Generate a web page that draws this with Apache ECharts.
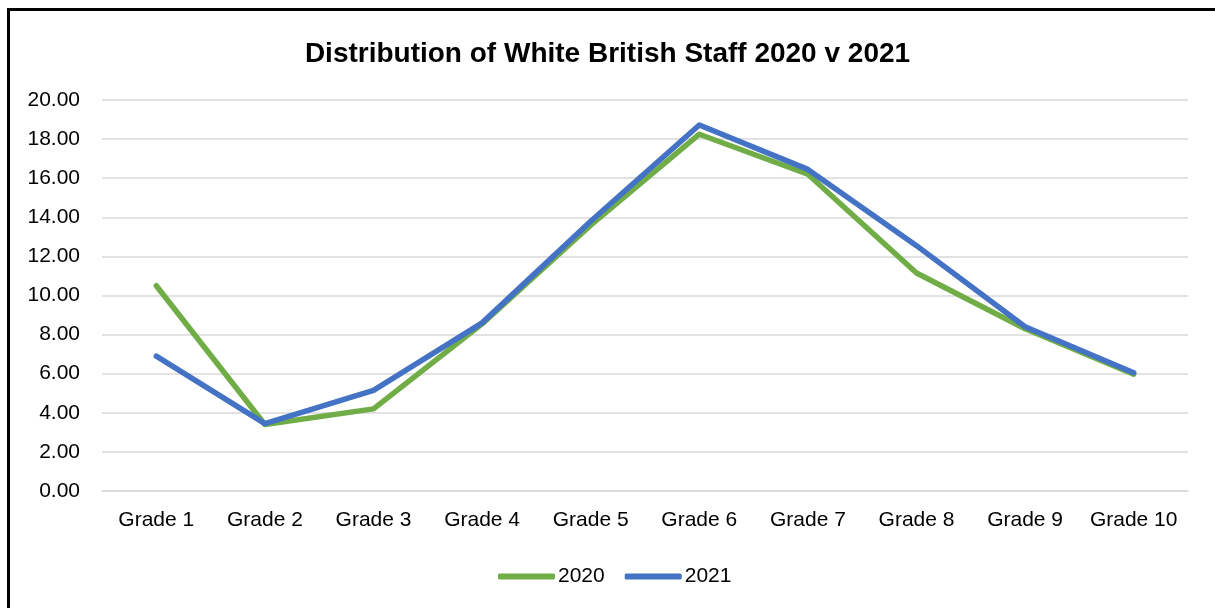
<!DOCTYPE html>
<html>
<head>
<meta charset="utf-8">
<script src="https://cdn.jsdelivr.net/npm/echarts@6/dist/echarts.min.js"></script>
<style>
  html, body { margin: 0; padding: 0; background: #fff; overflow: hidden; }
  #frame { position: absolute; left: 7px; top: 8px; width: 1400px; height: 800px; border: 3px solid #000; box-sizing: border-box; }
  #chart { position: absolute; left: 0; top: 0; width: 1215px; height: 608px; }
</style>
</head>
<body>
<div id="frame"></div>
<div id="chart"></div>
<script>
const titleText = 'Distribution of White British Staff 2020 v 2021';
const categories = ['Grade 1', 'Grade 2', 'Grade 3', 'Grade 4', 'Grade 5', 'Grade 6', 'Grade 7', 'Grade 8', 'Grade 9', 'Grade 10'];
const seriesNames = ['2020', '2021'];
const values2020 = [10.5, 3.4, 4.2, 8.55, 13.6, 18.25, 16.2, 11.15, 8.3, 5.98];
const values2021 = [6.9, 3.45, 5.15, 8.6, 13.8, 18.72, 16.45, 12.55, 8.4, 6.05];

const FONT = '"Liberation Sans", Arial, sans-serif';
const chart = echarts.init(document.getElementById('chart'), null, { renderer: 'canvas' });

chart.setOption({
  backgroundColor: 'transparent',
  animation: false,
  title: {
    text: titleText,
    left: 'center',
    top: 35,
    textStyle: { fontFamily: FONT, fontSize: 28, fontWeight: 'bold', color: '#000' }
  },
  legend: {
    data: seriesNames,
    bottom: 16,
    left: 493,
    itemWidth: 57,
    itemHeight: 6,
    itemGap: 20,
    icon: 'roundRect',
    textStyle: { fontFamily: FONT, fontSize: 21, color: '#000', padding: [0, 0, 0, -2] }
  },
  grid: { left: 102, right: 27, top: 100, bottom: 117, containLabel: false },
  xAxis: {
    type: 'category',
    data: categories,
    boundaryGap: true,
    axisLine: { show: true, lineStyle: { color: '#d9d9d9', width: 1.5 } },
    axisTick: { show: false },
    axisLabel: { fontFamily: FONT, fontSize: 21, color: '#000', margin: 19, interval: 0 }
  },
  yAxis: {
    type: 'value',
    min: 0,
    max: 20,
    interval: 2,
    axisLine: { show: false },
    axisTick: { show: false },
    splitLine: { lineStyle: { color: '#d9d9d9', width: 1.5 } },
    axisLabel: {
      fontFamily: FONT, fontSize: 21, color: '#000', margin: 22,
      formatter: v => v.toFixed(2)
    }
  },
  series: [
    {
      name: seriesNames[0],
      type: 'line',
      data: values2020,
      symbol: 'none',
      color: '#70AD47',
      lineStyle: { width: 5.5, color: '#70AD47', cap: 'round', join: 'round' }
    },
    {
      name: seriesNames[1],
      type: 'line',
      data: values2021,
      symbol: 'none',
      color: '#4472C4',
      lineStyle: { width: 5.5, color: '#4472C4', cap: 'round', join: 'round' }
    }
  ]
});
</script>
</body>
</html>
